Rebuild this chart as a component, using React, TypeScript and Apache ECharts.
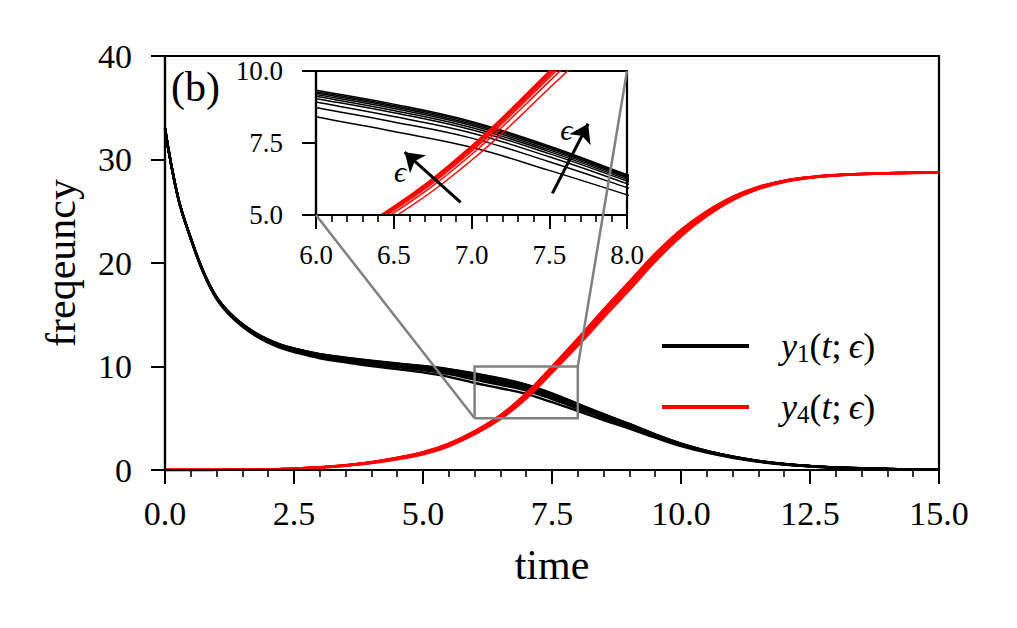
import React, { useEffect, useRef } from "react";
import * as echarts from "echarts";

const FONT = '"Liberation Serif", "DejaVu Serif", serif';

// time grid shared by every curve
const times = [0, 0.25, 0.5, 0.75, 1, 1.25, 1.5, 1.75, 2, 2.25, 2.5, 3, 3.5, 4, 4.5, 5, 5.5, 6, 6.5, 7, 7.5, 8, 8.5, 9, 9.5, 10, 10.5, 11, 11.5, 12, 12.5, 13, 14, 15];

// y1(t; eps) family (black)
const blk1 = [33.0, 26.4, 22.4, 19.1, 16.7, 15.2, 14.1, 13.25, 12.6, 12.1, 11.75, 11.2, 10.85, 10.55, 10.3, 10.05, 9.75, 9.33, 8.85, 8.25, 7.4, 6.4, 5.4, 4.45, 3.45, 2.55, 1.85, 1.3, 0.88, 0.58, 0.38, 0.24, 0.1, 0.04];
const blk2 = [33.0, 26.4, 22.4, 19.09, 16.69, 15.19, 14.09, 13.24, 12.59, 12.08, 11.73, 11.18, 10.83, 10.53, 10.27, 10.02, 9.71, 9.28, 8.8, 8.21, 7.36, 6.37, 5.37, 4.43, 3.43, 2.54, 1.84, 1.29, 0.88, 0.58, 0.38, 0.24, 0.1, 0.04];
const blk3 = [33.0, 26.4, 22.39, 19.09, 16.68, 15.18, 14.08, 13.22, 12.57, 12.07, 11.72, 11.16, 10.81, 10.5, 10.25, 9.99, 9.68, 9.24, 8.76, 8.16, 7.32, 6.33, 5.34, 4.41, 3.42, 2.53, 1.83, 1.29, 0.87, 0.58, 0.38, 0.24, 0.1, 0.04];
const blk4 = [33.0, 26.39, 22.38, 19.08, 16.67, 15.16, 14.06, 13.2, 12.55, 12.05, 11.69, 11.14, 10.78, 10.47, 10.21, 9.95, 9.63, 9.18, 8.7, 8.11, 7.26, 6.29, 5.31, 4.38, 3.4, 2.51, 1.82, 1.28, 0.87, 0.57, 0.38, 0.24, 0.1, 0.04];
const blk5 = [33.0, 26.39, 22.38, 19.07, 16.65, 15.15, 14.04, 13.19, 12.53, 12.02, 11.67, 11.11, 10.75, 10.44, 10.17, 9.91, 9.58, 9.12, 8.63, 8.04, 7.2, 6.24, 5.27, 4.35, 3.37, 2.5, 1.81, 1.27, 0.86, 0.57, 0.37, 0.24, 0.1, 0.04];
const blk6 = [33.0, 26.38, 22.37, 19.05, 16.64, 15.13, 14.02, 13.16, 12.5, 11.99, 11.64, 11.07, 10.71, 10.39, 10.12, 9.85, 9.51, 9.04, 8.55, 7.96, 7.13, 6.18, 5.21, 4.31, 3.34, 2.47, 1.8, 1.26, 0.85, 0.56, 0.37, 0.23, 0.1, 0.04];
const blk7 = [33.0, 26.38, 22.36, 19.03, 16.61, 15.1, 13.99, 13.12, 12.47, 11.95, 11.59, 11.02, 10.65, 10.33, 10.05, 9.77, 9.41, 8.92, 8.42, 7.85, 7.02, 6.09, 5.14, 4.25, 3.3, 2.44, 1.77, 1.25, 0.84, 0.56, 0.37, 0.23, 0.1, 0.04];
const blk8 = [33.0, 26.37, 22.34, 19.0, 16.57, 15.06, 13.94, 13.07, 12.41, 11.89, 11.52, 10.94, 10.56, 10.23, 9.94, 9.65, 9.26, 8.73, 8.23, 7.67, 6.85, 5.95, 5.02, 4.16, 3.24, 2.39, 1.74, 1.22, 0.83, 0.55, 0.36, 0.23, 0.1, 0.04];
const blk9 = [33.0, 26.35, 22.3, 18.95, 16.5, 14.98, 13.85, 12.97, 12.3, 11.77, 11.4, 10.8, 10.4, 10.05, 9.75, 9.43, 9.0, 8.41, 7.9, 7.35, 6.55, 5.7, 4.82, 4.0, 3.12, 2.31, 1.68, 1.18, 0.8, 0.53, 0.35, 0.22, 0.09, 0.04];

// y4(t; eps) family (red)
const red1 = [0, 0, 0, 0, 0.01, 0.02, 0.03, 0.04, 0.06, 0.09, 0.13, 0.26, 0.46, 0.76, 1.18, 1.72, 2.55, 3.75, 5.3, 7.4, 10.0, 12.7, 15.5, 18.2, 20.9, 23.2, 25.0, 26.4, 27.35, 27.95, 28.3, 28.5, 28.68, 28.75];
const red2 = [0, 0, 0, 0, 0.01, 0.02, 0.03, 0.04, 0.06, 0.09, 0.13, 0.26, 0.46, 0.75, 1.17, 1.71, 2.53, 3.73, 5.27, 7.37, 9.96, 12.65, 15.45, 18.14, 20.85, 23.16, 24.97, 26.38, 27.33, 27.94, 28.29, 28.5, 28.68, 28.75];
const red3 = [0, 0, 0, 0, 0.01, 0.02, 0.03, 0.04, 0.06, 0.09, 0.13, 0.25, 0.45, 0.75, 1.16, 1.69, 2.51, 3.71, 5.24, 7.33, 9.91, 12.6, 15.38, 18.08, 20.79, 23.11, 24.93, 26.35, 27.32, 27.93, 28.29, 28.49, 28.68, 28.75];
const red4 = [0, 0, 0, 0, 0.01, 0.02, 0.03, 0.04, 0.06, 0.09, 0.13, 0.25, 0.45, 0.74, 1.15, 1.67, 2.49, 3.68, 5.21, 7.28, 9.85, 12.53, 15.31, 18.0, 20.71, 23.05, 24.88, 26.32, 27.3, 27.92, 28.28, 28.49, 28.68, 28.75];
const red5 = [0, 0, 0, 0, 0.01, 0.02, 0.03, 0.04, 0.06, 0.09, 0.12, 0.24, 0.44, 0.72, 1.13, 1.64, 2.45, 3.64, 5.16, 7.21, 9.77, 12.43, 15.2, 17.9, 20.62, 22.96, 24.82, 26.27, 27.27, 27.9, 28.27, 28.48, 28.67, 28.75];
const red6 = [0, 0, 0, 0, 0.01, 0.02, 0.03, 0.04, 0.05, 0.08, 0.12, 0.24, 0.42, 0.7, 1.1, 1.6, 2.39, 3.57, 5.07, 7.1, 9.64, 12.28, 15.03, 17.72, 20.45, 22.83, 24.72, 26.2, 27.22, 27.87, 28.25, 28.47, 28.67, 28.75];
const red7 = [0, 0, 0, 0, 0.01, 0.02, 0.03, 0.04, 0.05, 0.08, 0.11, 0.22, 0.4, 0.66, 1.04, 1.52, 2.29, 3.45, 4.92, 6.9, 9.4, 12.0, 14.72, 17.4, 20.15, 22.58, 24.53, 26.07, 27.13, 27.82, 28.22, 28.45, 28.66, 28.75];

const blackCurves = [blk1, blk2, blk3, blk4, blk5, blk6, blk7, blk8, blk9];
const redCurves = [red1, red2, red3, red4, red5, red6, red7];

// axis ranges and ticks
const mainX = { min: 0, max: 15, interval: 2.5 };
const mainY = { min: 0, max: 40, interval: 10 };
const insetX = { min: 6, max: 8, interval: 0.5 };
const insetY = { min: 5, max: 10, interval: 2.5 };

// zoom box and annotations (data coords)
const zoomBox = { x0: 6, x1: 8, y0: 5, y1: 10 };
const arrowA = [[6.93, 5.44], [6.57, 7.18]];
const arrowB = [[7.52, 5.75], [7.75, 8.17]];
const epsLabels = [[6.54, 6.52], [7.61, 7.97]];

const legendText: Record<string, string> = {
  y1: "{s|}{i|y}{sub|1}{n|(}{i|t}{n|;\u2009}{i|\u03f5}{n|)}",
  y4: "{s|}{i|y}{sub|4}{n|(}{i|t}{n|;\u2009}{i|\u03f5}{n|)}",
};

export default function App() {
  const ref = useRef<HTMLDivElement>(null);
  useEffect(() => {
    const chart = echarts.init(ref.current!, null, { renderer: "svg" });
    const mk = (vals: number[]) => times.map((t, i) => [t, vals[i]]);

    const series: any[] = [];
    const add = (curves: number[][], name: string, color: string, gi: number, width: number) => {
      curves.forEach((c) => {
        series.push({
          type: "line",
          name,
          xAxisIndex: gi,
          yAxisIndex: gi,
          data: mk(c),
          showSymbol: false,
          smooth: 0.4,
          clip: true,
          silent: true,
          lineStyle: { color, width },
          itemStyle: { color },
          emphasis: { disabled: true },
        });
      });
    };
    add(blackCurves, "y1", "#000000", 0, 2.4);
    add(redCurves, "y4", "#ff0000", 0, 2.4);
    add(blackCurves, "y1", "#000000", 1, 1.5);
    add(redCurves, "y4", "#ff0000", 1, 1.5);

    // annotations on inset
    series.push({
      type: "line",
      xAxisIndex: 1,
      yAxisIndex: 1,
      data: [],
      silent: true,
      markLine: {
        silent: true,
        symbol: ["none", "arrow"],
        symbolSize: 18,
        label: { show: false },
        lineStyle: { color: "#000", width: 3, type: "solid" },
        emphasis: { disabled: true },
        data: [
          [{ coord: arrowA[0] }, { coord: arrowA[1] }],
          [{ coord: arrowB[0] }, { coord: arrowB[1] }],
        ],
      },
      markPoint: {
        silent: true,
        symbol: "circle",
        symbolSize: 0,
        label: {
          show: true,
          position: "inside",
          formatter: "\u03f5",
          fontSize: 30,
          fontStyle: "italic",
          fontFamily: FONT,
          color: "#000",
        },
        data: epsLabels.map((c) => ({ coord: c })),
      },
    });

    const axisBase = (fontSize: number, margin: number, digits: number) => ({
      type: "value",
      axisLine: { show: true, onZero: false, lineStyle: { color: "#000", width: 2.2 } },
      axisTick: { show: true, inside: false, length: 14, lineStyle: { color: "#000", width: 2 } },
      splitLine: { show: false },
      axisLabel: {
        fontSize,
        fontFamily: FONT,
        color: "#000",
        margin,
        formatter: (v: number) => v.toFixed(digits),
      },
    });

    const nameStyle = { fontSize: 42, fontFamily: FONT, color: "#000" };

    chart.setOption({
      animation: false,
      backgroundColor: "#ffffff",
      grid: [
        { left: 165, top: 56, width: 774, height: 414, show: true, borderColor: "#000", borderWidth: 2.2, backgroundColor: "transparent" },
        { left: 316, top: 71, width: 311, height: 144, show: true, borderColor: "#000", borderWidth: 2.2, backgroundColor: "#ffffff" },
      ],
      xAxis: [
        {
          ...axisBase(34, 26, 1),
          gridIndex: 0,
          ...mainX,
          z: 5,
          minorTick: { show: true, splitNumber: 5, length: 7, lineStyle: { color: "#000", width: 1.6 } },
          name: "time",
          nameLocation: "middle",
          nameGap: 74,
          nameTextStyle: nameStyle,
        },
        {
          ...axisBase(27, 26, 1),
          gridIndex: 1,
          ...insetX,
          z: 5,
          minorTick: { show: true, splitNumber: 5, length: 7, lineStyle: { color: "#000", width: 1.6 } },
        },
      ],
      yAxis: [
        {
          ...axisBase(34, 33, 0),
          gridIndex: 0,
          ...mainY,
          z: 5,
          name: "freqeuncy",
          nameLocation: "middle",
          nameGap: 83,
          nameTextStyle: nameStyle,
        },
        {
          ...axisBase(27, 33, 1),
          gridIndex: 1,
          ...insetY,
          z: 5,
        },
      ],
      legend: {
        show: true,
        orient: "vertical",
        left: 662,
        top: 328,
        padding: 0,
        itemGap: 23,
        itemWidth: 87,
        itemHeight: 4,
        icon: "rect",
        selectedMode: false,
        data: ["y1", "y4"],
        formatter: (name: string) => legendText[name] || name,
        textStyle: {
          fontFamily: FONT,
          color: "#000",
          fontSize: 36,
          rich: {
            s: { width: 27, lineHeight: 40, fontSize: 36 },
            i: { fontStyle: "italic", fontSize: 36, lineHeight: 40, fontFamily: FONT, color: "#000" },
            n: { fontSize: 36, lineHeight: 40, fontFamily: FONT, color: "#000" },
            sub: { fontSize: 25, lineHeight: 40, verticalAlign: "bottom", fontFamily: FONT, color: "#000" },
          },
        },
      },
      series,
    });

    const P = (gi: number, pt: number[]) =>
      chart.convertToPixel({ xAxisIndex: gi, yAxisIndex: gi } as any, pt) as unknown as number[];
    const a = P(0, [zoomBox.x0, zoomBox.y0]);
    const b = P(0, [zoomBox.x1, zoomBox.y1]);
    const c = P(1, [zoomBox.x0, zoomBox.y0]);
    const d = P(1, [zoomBox.x1, zoomBox.y1]);
    const gray = "#808080";
    chart.setOption({
      graphic: [
        {
          type: "polyline",
          z: 100,
          silent: true,
          shape: { points: [[a[0], a[1]], [b[0], a[1]], [b[0], b[1]], [a[0], b[1]], [a[0], a[1]]] },
          style: { stroke: gray, lineWidth: 2.5, fill: null },
        },
        {
          type: "line",
          z: 100,
          silent: true,
          shape: { x1: a[0], y1: a[1], x2: c[0], y2: c[1] },
          style: { stroke: gray, lineWidth: 2.5 },
        },
        {
          type: "line",
          z: 100,
          silent: true,
          shape: { x1: b[0], y1: b[1], x2: d[0], y2: d[1] },
          style: { stroke: gray, lineWidth: 2.5 },
        },
        {
          type: "text",
          z: 100,
          silent: true,
          x: 171,
          y: 87,
          style: { text: "(b)", fontSize: 42, fontFamily: FONT, fill: "#000", align: "left", verticalAlign: "middle" },
        },
      ],
    });

    return () => chart.dispose();
  }, []);
  return <div ref={ref} style={{ position: "fixed", left: 0, top: 0, width: 1017, height: 628 }} />;
}
